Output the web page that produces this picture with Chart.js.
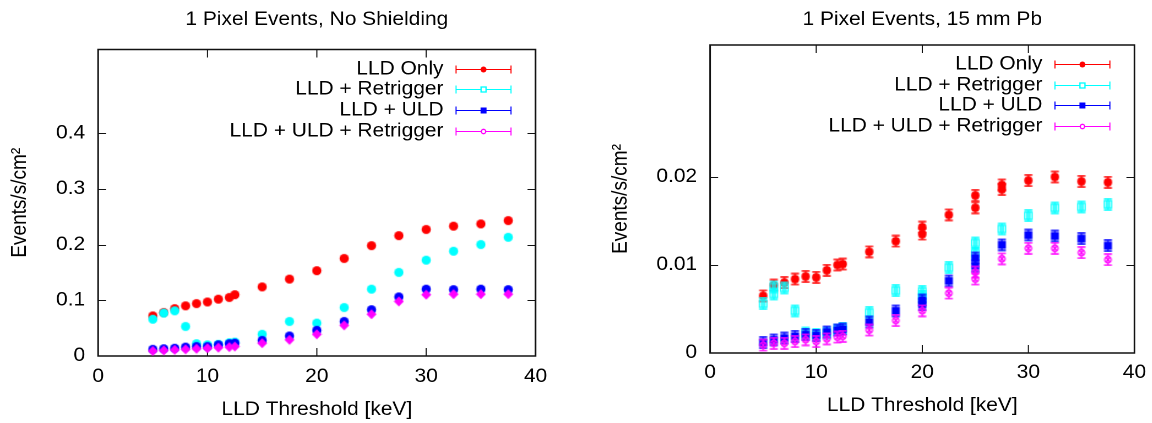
<!DOCTYPE html>
<html>
<head>
<meta charset="utf-8">
<script src="https://cdn.jsdelivr.net/npm/chart.js@4.4.0/dist/chart.umd.min.js"></script>
<style>
  html, body { margin: 0; padding: 0; background: #fff; overflow: hidden; }
  /* the figure's lettering is a little wider than Helvetica: draw narrow, stretch by 1.1 */
  .panel { position: absolute; top: 0; width: 523.6px; height: 423px; transform: scaleX(1.1); transform-origin: 0 0; }
  #left { left: 0; }
  #right { left: 576px; }
</style>
</head>
<body>
<div class="panel" id="left"><canvas id="chartLeft"></canvas></div>
<div class="panel" id="right"><canvas id="chartRight"></canvas></div>
<script>
// LLD thresholds [keV]
const thresholds = [5, 6, 7, 8, 9, 10, 11, 12, 12.5, 15, 17.5, 20, 22.5, 25, 27.5, 30, 32.5, 35, 37.5];
const seriesNames = ['LLD Only', 'LLD + Retrigger', 'LLD + ULD', 'LLD + ULD + Retrigger'];

const xTickValues = [0, 10, 20, 30, 40];
const noShieldYTicks = [0, 0.1, 0.2, 0.3, 0.4];
const pbYTicks = [0, 0.01, 0.02];

// no shielding, events/s/cm2
const noShieldLld = [0.072, 0.078, 0.085, 0.090, 0.094, 0.097, 0.102, 0.105, 0.110, 0.124, 0.138, 0.153, 0.175, 0.198, 0.216, 0.227, 0.233, 0.237, 0.243];
const noShieldRetrig = [0.066, 0.077, 0.081, 0.053, 0.022, 0.020, 0.021, 0.024, 0.025, 0.039, 0.062, 0.059, 0.087, 0.120, 0.150, 0.172, 0.188, 0.200, 0.213];
const noShieldUld = [0.012, 0.013, 0.014, 0.016, 0.017, 0.017, 0.020, 0.022, 0.023, 0.028, 0.036, 0.046, 0.062, 0.083, 0.106, 0.120, 0.119, 0.120, 0.119];
const noShieldUldRetrig = [0.009, 0.010, 0.011, 0.012, 0.013, 0.014, 0.015, 0.016, 0.017, 0.023, 0.029, 0.039, 0.055, 0.075, 0.098, 0.110, 0.111, 0.111, 0.111];

// 15 mm Pb, events/s/cm2
const pbLld = [0.0065, 0.0077, 0.0080, 0.0084, 0.0087, 0.0086, 0.0094, 0.0100, 0.0101, 0.0115, 0.0127, 0.0143, 0.0157, 0.0179, 0.0191, 0.0196, 0.0200, 0.0195, 0.0194];
const pbRetrig = [0.0056, 0.0075, 0.0074, 0.0048, 0.0023, 0.0021, 0.0023, 0.0026, 0.0028, 0.0046, 0.0071, 0.0070, 0.0097, 0.0125, 0.0141, 0.0156, 0.0165, 0.0166, 0.0169];
const pbUld = [0.0012, 0.0015, 0.0017, 0.0019, 0.0021, 0.0020, 0.0024, 0.0026, 0.0027, 0.0035, 0.0048, 0.0060, 0.0082, 0.0108, 0.0123, 0.0134, 0.0133, 0.0130, 0.0122];
const pbUldRetrig = [0.0009, 0.0011, 0.0011, 0.0013, 0.0015, 0.0013, 0.0016, 0.0018, 0.0019, 0.0026, 0.0037, 0.0048, 0.0068, 0.0092, 0.0107, 0.0119, 0.0119, 0.0114, 0.0106];

// repeated runs at some thresholds (15 mm Pb)
const pbRepeatAt = [6, 20, 25, 27.5];
const pbLldRepeat = [null, 0.0135, 0.0165, 0.0186];
const pbRetrigRepeat = [0.0067, 0.0064, 0.0113, null];
const pbUldRepeat = [null, 0.0055, 0.0099, null];
const pbUldRetrigRepeat = [null, null, 0.0084, null];

const colors = ['#ff0000', '#00ffff', '#0000ff', '#ff00ff'];
const keyMarkers = ['dot', 'openSquare', 'square', 'openCircle'];
const FONT = "'Liberation Sans', Arial, Helvetica, sans-serif";
const SX = 1.1; // css stretch of the panels

Chart.defaults.font.family = FONT;
Chart.defaults.font.size = 19;
Chart.defaults.color = '#000';

function makePoints(xs, ys) {
  return xs.map((x, i) => ({ x, y: ys[i] })).filter((p) => p.y !== null);
}

// marker shapes drawn pre-squeezed so they stay round after the stretch
function drawMarker(g, kind, color, big) {
  g.fillStyle = color;
  g.strokeStyle = color;
  g.lineWidth = 1.3;
  const r = big ? 4 : 3;
  if (kind === 'dot') {
    g.beginPath(); g.arc(0, 0, big ? 4.2 : 3, 0, Math.PI * 2); g.fill();
  } else if (kind === 'openSquare') {
    if (!big) { g.fillStyle = '#fff'; g.fillRect(-2.5, -2.5, 5, 5); }
    const h = big ? 3.6 : 2.5;
    g.strokeRect(-h, -h, 2 * h, 2 * h);
    if (big) { g.beginPath(); g.moveTo(-1.3, -h); g.lineTo(-1.3, h); g.moveTo(1.3, -h); g.lineTo(1.3, h); g.stroke(); }
  } else if (kind === 'square') {
    g.fillRect(-r, -r, 2 * r, 2 * r);
  } else {
    if (!big) { g.fillStyle = '#fff'; }
    g.beginPath(); g.arc(0, 0, big ? 3.3 : 2.2, 0, Math.PI * 2);
    if (!big) g.fill();
    g.stroke();
    if (big) { g.beginPath(); g.moveTo(-2.3, -2.3); g.lineTo(2.3, 2.3); g.moveTo(2.3, -2.3); g.lineTo(-2.3, 2.3); g.stroke(); }
  }
}

// marker with its small error bar, gnuplot style
function glyph(kind, color) {
  const c = document.createElement('canvas');
  c.width = 10;
  c.height = 13;
  const g = c.getContext('2d');
  g.translate(5, 6.5);
  g.scale(1 / SX, 1);
  g.strokeStyle = color;
  g.lineWidth = 1.3;
  g.beginPath();
  g.moveTo(0, -5.5); g.lineTo(0, 5.5);
  g.moveTo(-4, -5.5); g.lineTo(4, -5.5);
  g.moveTo(-4, 5.5); g.lineTo(4, 5.5);
  g.stroke();
  drawMarker(g, kind, color, true);
  return c;
}

function blob(kind, color) {
  const c = document.createElement('canvas');
  c.width = 10;
  c.height = 11;
  const g = c.getContext('2d');
  g.translate(5, 5.5);
  g.scale(1 / SX, 1);
  g.fillStyle = color;
  g.beginPath();
  if (kind === 'diamond') {
    g.moveTo(0, -5); g.lineTo(5, 0); g.lineTo(0, 5); g.lineTo(-5, 0); g.closePath();
  } else {
    g.arc(0, 0, 4.6, 0, Math.PI * 2);
  }
  g.fill();
  return c;
}

const framePlugin = {
  id: 'frame',
  beforeDatasetsDraw(chart) {
    const { ctx, chartArea: a, scales: { x, y } } = chart;
    ctx.save();
    ctx.strokeStyle = '#111';
    ctx.lineWidth = 1;
    ctx.beginPath();
    x.ticks.forEach((t) => {
      const px = x.getPixelForValue(t.value);
      if (px <= a.left + 2 || px >= a.right - 2) return;
      ctx.moveTo(px, a.bottom); ctx.lineTo(px, a.bottom - 8);
      ctx.moveTo(px, a.top); ctx.lineTo(px, a.top + 8);
    });
    y.ticks.forEach((t) => {
      const py = Math.round(y.getPixelForValue(t.value)) + 0.5;
      if (py >= a.bottom - 2 || py <= a.top + 2) return;
      ctx.moveTo(a.left, py); ctx.lineTo(a.left + 7.3, py);
      ctx.moveTo(a.right, py); ctx.lineTo(a.right - 7.3, py);
    });
    ctx.stroke();
    ctx.lineWidth = 1.5;
    ctx.strokeRect(a.left, a.top, a.right - a.left, a.bottom - a.top);
    ctx.restore();
  },
};

// key in the top right corner: text, then errorbar sample
const keyPlugin = {
  id: 'key',
  afterDatasetsDraw(chart) {
    const { ctx, chartArea: a } = chart;
    ctx.save();
    ctx.font = `19px ${FONT}`;
    ctx.textAlign = 'right';
    ctx.textBaseline = 'middle';
    chart.data.datasets.forEach((ds, i) => {
      const yy = Math.round(a.top + 19 + i * 20.7) + 0.5;
      ctx.fillStyle = '#000';
      ctx.fillText(ds.label, a.right - 83.6, yy);
      const x1 = a.right - 72.7;
      const x2 = a.right - 21.8;
      ctx.strokeStyle = ds.borderColor;
      ctx.lineWidth = 1;
      ctx.beginPath();
      ctx.moveTo(x1, yy); ctx.lineTo(x2, yy);
      ctx.moveTo(x1 + 0.5, yy - 4); ctx.lineTo(x1 + 0.5, yy + 4);
      ctx.moveTo(x2 - 0.5, yy - 4); ctx.lineTo(x2 - 0.5, yy + 4);
      ctx.stroke();
      ctx.save();
      ctx.translate((x1 + x2) / 2, yy);
      ctx.scale(1 / SX, 1);
      drawMarker(ctx, ds.keyMarker, ds.borderColor, false);
      ctx.restore();
    });
    ctx.restore();
  },
};

function buildOptions(cfg) {
  return {
    responsive: true,
    maintainAspectRatio: false,
    animation: false,
    devicePixelRatio: 2,
    events: [],
    layout: { padding: { left: 0, right: cfg.padRight, top: 0, bottom: 0 } },
    plugins: {
      legend: { display: false },
      tooltip: { enabled: false },
      title: {
        display: true,
        text: cfg.title,
        fullSize: false,
        color: '#000',
        font: { size: 19, weight: 'normal' },
        padding: { top: 8.6, bottom: cfg.titleGap },
      },
    },
    scales: {
      x: {
        type: 'linear',
        min: 0,
        max: 40,
        grid: { display: false, drawTicks: false },
        border: { display: false },
        ticks: { padding: cfg.xTickPad, color: '#000', callback: (v) => String(v) },
        afterBuildTicks: (s) => { s.ticks = xTickValues.map((v) => ({ value: v })); },
        afterFit: (s) => { s.height = cfg.xHeight; s.paddingLeft = 0; s.paddingRight = 0; },
        title: {
          display: true,
          text: 'LLD Threshold [keV]',
          color: '#000',
          padding: { top: 0, bottom: cfg.xTitlePad },
        },
      },
      y: {
        type: 'linear',
        min: 0,
        max: cfg.yMax,
        grid: { display: false, drawTicks: false },
        border: { display: false },
        ticks: { padding: 11.8, color: '#000', callback: (v) => String(v) },
        afterBuildTicks: (s) => { s.ticks = cfg.yTicks.map((v) => ({ value: v })); },
        afterFit: (s) => { s.width = cfg.yWidth; s.paddingTop = 0; s.paddingBottom = 0; },
        title: {
          display: true,
          text: 'Events/s/cm²',
          color: '#000',
          padding: { top: cfg.yTitlePad, bottom: 0 },
        },
      },
    },
  };
}

const noShieldValues = [noShieldLld, noShieldRetrig, noShieldUld, noShieldUldRetrig];
const leftDatasets = noShieldValues.map((vals, i) => ({
  label: seriesNames[i],
  data: makePoints(thresholds, vals),
  borderColor: colors[i],
  backgroundColor: colors[i],
  pointStyle: blob(i === 3 ? 'diamond' : 'dot', colors[i]),
  pointRadius: 5,
  showLine: false,
  order: 4 - i,
  keyMarker: keyMarkers[i],
}));

new Chart(document.getElementById('chartLeft'), {
  type: 'scatter',
  data: { datasets: leftDatasets },
  options: buildOptions({
    title: '1 Pixel Events, No Shielding',
    padRight: 37.2,
    titleGap: 18.1,
    xHeight: 67,
    xTickPad: 9.6,
    xTitlePad: 1.6,
    yWidth: 89.1,
    yTitlePad: 6.8,
    yMax: 0.55,
    yTicks: noShieldYTicks,
  }),
  plugins: [framePlugin, keyPlugin],
});

const pbValues = [pbLld, pbRetrig, pbUld, pbUldRetrig];
const pbRepeats = [pbLldRepeat, pbRetrigRepeat, pbUldRepeat, pbUldRetrigRepeat];
const rightDatasets = pbValues.map((vals, i) => ({
  label: seriesNames[i],
  data: makePoints(thresholds, vals).concat(makePoints(pbRepeatAt, pbRepeats[i])),
  borderColor: colors[i],
  backgroundColor: colors[i],
  pointStyle: glyph(keyMarkers[i], colors[i]),
  pointRadius: 5,
  showLine: false,
  order: 4 - i,
  keyMarker: keyMarkers[i],
}));

new Chart(document.getElementById('chartRight'), {
  type: 'scatter',
  data: { datasets: rightDatasets },
  options: buildOptions({
    title: '1 Pixel Events, 15 mm Pb',
    padRight: 16.4,
    titleGap: 13.6,
    xHeight: 70,
    xTickPad: 8.6,
    xTitlePad: 5.6,
    yWidth: 121.8,
    yTitlePad: 29.5,
    yMax: 0.035,
    yTicks: pbYTicks,
  }),
  plugins: [framePlugin, keyPlugin],
});
</script>
</body>
</html>
